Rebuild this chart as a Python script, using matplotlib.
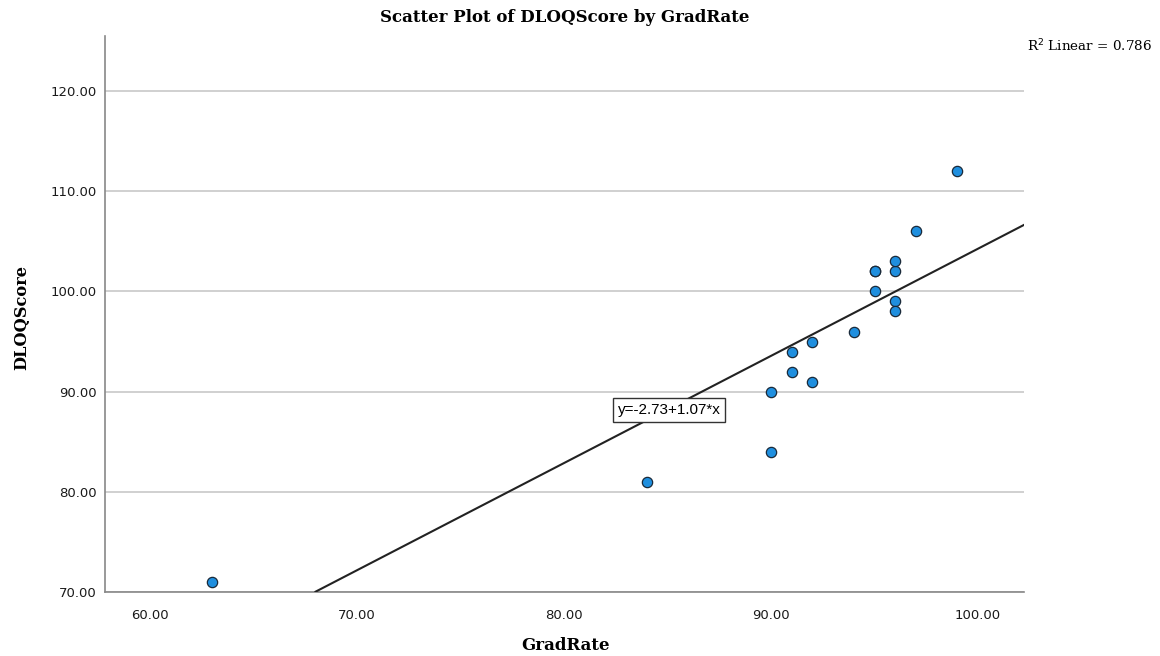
import numpy as np
import matplotlib
matplotlib.use("Agg")
import matplotlib.pyplot as plt

grad_rate = [63, 84, 90, 90, 91, 91, 92, 92, 94, 95, 95, 95, 96, 96, 96, 96, 97, 99]
dloq_score = [71, 81, 84, 90, 92, 94, 91, 95, 96, 100, 102, 102, 102, 103, 99, 98, 106, 112]
intercept, slope = -2.73, 1.07
r2 = 0.786

fig = plt.figure(figsize=(11.6, 6.56), dpi=100)
ax = fig.add_axes([105 / 1160, 1 - 592 / 656, (1024 - 105) / 1160, (592 - 36) / 656])

ax.set_xlim(57.83, 102.22)
ax.set_ylim(70, 125.5)

# fit line
xl = np.array([68.0, 102.22])
ax.plot(xl, intercept + slope * xl, color="#222222", lw=1.5, zorder=3)

ax.scatter(grad_rate, dloq_score, s=55, color="#1f8fdf", edgecolor="#1a2a3a",
           linewidth=0.9, zorder=4)

ax.set_xticks([60, 70, 80, 90, 100])
ax.set_yticks([70, 80, 90, 100, 110, 120])
ax.xaxis.set_major_formatter(matplotlib.ticker.FormatStrFormatter("%.2f"))
ax.yaxis.set_major_formatter(matplotlib.ticker.FormatStrFormatter("%.2f"))
ax.tick_params(length=0, labelsize=9.5, colors="#1a1a1a", pad=6)
ax.tick_params(axis="x", pad=12)
ax.grid(axis="y", color="#c8c8c8", lw=1.2, zorder=0)
ax.set_axisbelow(True)
for s in ["top", "right"]:
    ax.spines[s].set_visible(False)
for s in ["left", "bottom"]:
    ax.spines[s].set_color("#888888")
    ax.spines[s].set_linewidth(1.2)

ax.text(85.08, 88.16, f"y={intercept:.2f}+{slope:.2f}*x", ha="center", va="center",
        fontsize=11, family="Liberation Sans", zorder=5,
        bbox=dict(boxstyle="square,pad=0.3", fc="white", ec="#333333", lw=1))

fig.text(565 / 1160, 1 - 18 / 656, "Scatter Plot of DLOQScore by GradRate", ha="center",
         va="center", fontsize=12, fontweight="bold", family="DejaVu Serif")
fig.text(565 / 1160, 1 - 646 / 656, "GradRate", ha="center", va="center",
         fontsize=12, fontweight="bold", family="DejaVu Serif")
fig.text(22 / 1160, 1 - 318 / 656, "DLOQScore", ha="center", va="center", rotation=90,
         fontsize=11.7, fontweight="bold", family="DejaVu Serif")
fig.text(1027 / 1160, 1 - 46 / 656, f"R$^2$ Linear = {r2:.3f}", ha="left", va="center",
         fontsize=9.7, family="DejaVu Serif")

fig.savefig("out.png", dpi=100, facecolor="white")
